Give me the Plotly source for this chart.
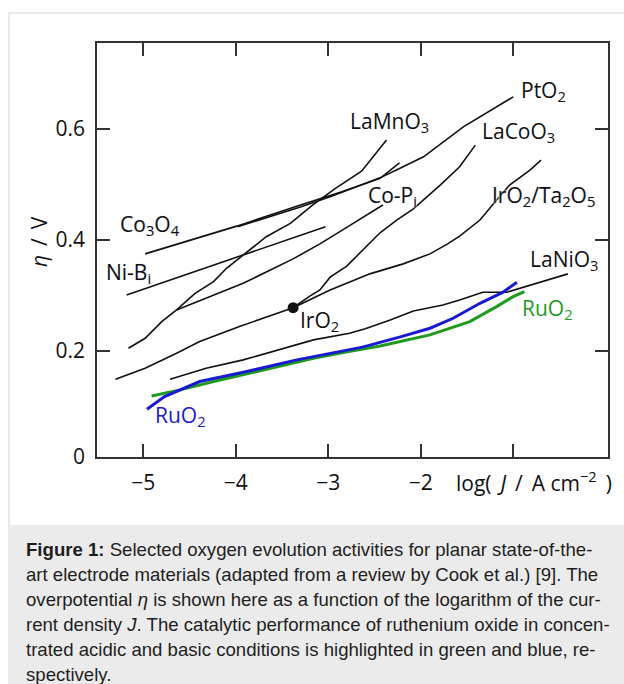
import plotly.graph_objects as go

# ---------------- data ----------------
co3o4_x = [-4.98, -3.99, -3.30, -2.87, -2.44, -2.23]
co3o4_y = [0.375, 0.425, 0.463, 0.486, 0.511, 0.539]

pto2_x = [-3.98, -3.31, -2.98, -2.44, -2.23, -1.97, -1.54, -1.07, -1.00]
pto2_y = [0.424, 0.459, 0.478, 0.512, 0.529, 0.550, 0.604, 0.652, 0.658]

nibi_x = [-5.18, -3.03]
nibi_y = [0.301, 0.424]

lamno3_x = [-5.16, -4.98, -4.80, -4.64, -4.44, -4.24, -4.10, -3.88, -3.67, -3.41, -3.17, -2.93, -2.64, -2.37]
lamno3_y = [0.205, 0.223, 0.253, 0.274, 0.304, 0.325, 0.349, 0.379, 0.406, 0.430, 0.463, 0.492, 0.524, 0.580]

copi_x = [-4.64, -3.92, -3.38, -3.09, -2.77, -2.41]
copi_y = [0.274, 0.322, 0.366, 0.393, 0.426, 0.463]

iro2_x = [-5.30, -4.98, -4.64, -4.39, -3.96, -3.60, -3.38]
iro2_y = [0.149, 0.169, 0.196, 0.217, 0.244, 0.265, 0.278]

lacoo3_x = [-3.38, -3.20, -3.09, -2.98, -2.80, -2.63, -2.44, -2.26, -2.08, -1.79, -1.58, -1.41]
lacoo3_y = [0.278, 0.299, 0.310, 0.333, 0.353, 0.382, 0.413, 0.436, 0.456, 0.499, 0.532, 0.571]

irta_x = [-3.38, -2.98, -2.55, -2.19, -1.90, -1.71, -1.58, -1.36, -1.18, -1.04, -0.82, -0.70]
irta_y = [0.278, 0.310, 0.339, 0.357, 0.375, 0.393, 0.407, 0.436, 0.472, 0.499, 0.526, 0.544]

lanio3_x = [-4.71, -4.32, -3.92, -3.60, -3.16, -2.77, -2.60, -2.33, -2.08, -1.76, -1.58, -1.33, -1.07, -0.41]
lanio3_y = [0.149, 0.169, 0.184, 0.199, 0.220, 0.232, 0.240, 0.256, 0.272, 0.283, 0.292, 0.306, 0.306, 0.339]

ruo2_basic_x = [-4.96, -4.77, -4.39, -3.88, -3.34, -2.98, -2.63, -2.23, -1.90, -1.65, -1.36, -1.11, -0.96]
ruo2_basic_y = [0.095, 0.118, 0.145, 0.163, 0.184, 0.196, 0.207, 0.225, 0.241, 0.259, 0.286, 0.306, 0.324]

ruo2_acid_x = [-4.91, -4.60, -4.24, -3.70, -3.16, -2.81, -2.44, -1.90, -1.47, -1.18, -1.00, -0.88]
ruo2_acid_y = [0.119, 0.130, 0.145, 0.166, 0.187, 0.198, 0.209, 0.229, 0.253, 0.280, 0.298, 0.307]

iro2_point_x = [-3.38]
iro2_point_y = [0.278]

x_tickvals = [-5, -4, -3, -2, -1]
x_ticktext = ["\u22125", "\u22124", "\u22123", "\u22122", ""]
y_tickvals = [0.009, 0.2, 0.4, 0.6]
y_ticktext = ["0", "0.2", "0.4", "0.6"]

caption_lines = [
    "<b>Figure 1:</b> Selected oxygen evolution activities for planar state-of-the-",
    "art electrode materials (adapted from a review by Cook et al.) [9]. The",
    "overpotential <i>\u03b7</i> is shown here as a function of the logarithm of the cur-",
    "rent density <i>J</i>. The catalytic performance of ruthenium oxide in concen-",
    "trated acidic and basic conditions is highlighted in green and blue, re-",
    "spectively.",
]

# ---------------- styling ----------------
BLACK = "#111111"
BLUE = "#1a1ad2"
GREEN = "#1f9a1f"
FONT = "Open Sans"
FS = 21

fig = go.Figure()

black_series = [
    (co3o4_x, co3o4_y), (pto2_x, pto2_y), (nibi_x, nibi_y), (lamno3_x, lamno3_y),
    (copi_x, copi_y), (iro2_x, iro2_y), (lacoo3_x, lacoo3_y), (irta_x, irta_y),
    (lanio3_x, lanio3_y),
]
for xs, ys in black_series:
    fig.add_trace(go.Scatter(x=xs, y=ys, mode="lines",
                             line=dict(color=BLACK, width=1.6), showlegend=False))

fig.add_trace(go.Scatter(x=ruo2_acid_x, y=ruo2_acid_y, mode="lines",
                         line=dict(color=GREEN, width=3), showlegend=False))
fig.add_trace(go.Scatter(x=ruo2_basic_x, y=ruo2_basic_y, mode="lines",
                         line=dict(color=BLUE, width=3), showlegend=False))
fig.add_trace(go.Scatter(x=iro2_point_x, y=iro2_point_y, mode="markers",
                         marker=dict(color=BLACK, size=11), showlegend=False))

halo = "0 0 2px #ffffff, 0 0 2px #ffffff, 0 0 1px #999999"
labels = [
    ("PtO<sub>2</sub>", -0.668, 0.668, BLACK, None),
    ("LaMnO<sub>3</sub>", -2.336, 0.612, BLACK, None),
    ("LaCoO<sub>3</sub>", -0.946, 0.594, BLACK, None),
    ("Co-P<sub>i</sub>", -2.306, 0.480, BLACK, halo),
    ("IrO<sub>2</sub>/Ta<sub>2</sub>O<sub>5</sub>", -0.668, 0.480, BLACK, halo),
    ("LaNiO<sub>3</sub>", -0.455, 0.364, BLACK, None),
    ("RuO<sub>2</sub>", -0.630, 0.276, GREEN, None),
    ("Co<sub>3</sub>O<sub>4</sub>", -4.931, 0.427, BLACK, halo),
    ("Ni-B<sub>i</sub>", -5.158, 0.341, BLACK, halo),
    ("IrO<sub>2</sub>", -3.093, 0.254, BLACK, None),
    ("RuO<sub>2</sub>", -4.592, 0.082, BLUE, None),
]
for text, x, y, col, sh in labels:
    f = dict(family=FONT, size=FS, color=col)
    if sh:
        f["shadow"] = sh
    fig.add_annotation(x=x, y=y, xref="x", yref="y", text=text, showarrow=False,
                       xanchor="center", yanchor="middle", font=f)

# pixel -> paper helpers for the fixed layout
L, R, T, B = 97, 16, 43, 227
W, H = 624, 684
PW, PH = W - L - R, H - T - B


def px(xp):
    return (xp - L) / PW


def py(yp):
    return (H - B - yp) / PH


SP = "\u00a0\u2009"
# axis titles
fig.add_annotation(x=px(39), y=py(242), xref="paper", yref="paper",
                   text="<i>\u03b7</i>" + SP + "/" + SP + "V", textangle=-90, showarrow=False,
                   xanchor="center", yanchor="middle",
                   font=dict(family=FONT, size=FS, color=BLACK))
fig.add_annotation(x=px(534), y=py(481), xref="paper", yref="paper",
                   text="log(" + SP + "<i>J</i>" + SP + "/" + SP + "A\u00a0cm<sup>\u22122</sup>" + SP + ")",
                   showarrow=False, xanchor="center", yanchor="middle",
                   font=dict(family=FONT, size=FS, color=BLACK))

# card frame and caption panel
fig.add_shape(type="rect", xref="paper", yref="paper",
              x0=px(9), x1=px(650), y0=py(13), y1=py(700),
              line=dict(color="#e2e2e2", width=1.5), fillcolor="white", layer="below")
fig.add_shape(type="rect", xref="paper", yref="paper",
              x0=px(9), x1=px(650), y0=py(525), y1=py(700),
              line=dict(width=0), fillcolor="#ebebeb", layer="below")

cap_y = [549.5, 574.5, 599.5, 624.5, 649.5, 674]
for line, yy in zip(caption_lines, cap_y):
    fig.add_annotation(x=px(24), y=py(yy), xref="paper", yref="paper",
                       text=line, showarrow=False, xanchor="left", yanchor="middle",
                       font=dict(family="Liberation Sans, Arial", size=18.6, color="#1e1e1e"))

axis_common = dict(showgrid=False, zeroline=False, showline=True, linecolor="#333333",
                   linewidth=1.5, mirror="ticks", ticks="inside", ticklen=13,
                   tickwidth=1.5, tickcolor="#333333",
                   tickfont=dict(family=FONT, size=FS, color=BLACK))

fig.update_layout(
    width=W, height=H,
    margin=dict(l=L, r=R, t=T, b=B, pad=0),
    paper_bgcolor="white", plot_bgcolor="white",
    xaxis=dict(range=[-5.5, 0.024], tickvals=x_tickvals, ticktext=x_ticktext,
               ticklabelstandoff=6, **axis_common),
    yaxis=dict(range=[0.009, 0.755], tickvals=y_tickvals, ticktext=y_ticktext,
               ticklabelstandoff=6, **axis_common),
)

fig.write_html("out.html")
